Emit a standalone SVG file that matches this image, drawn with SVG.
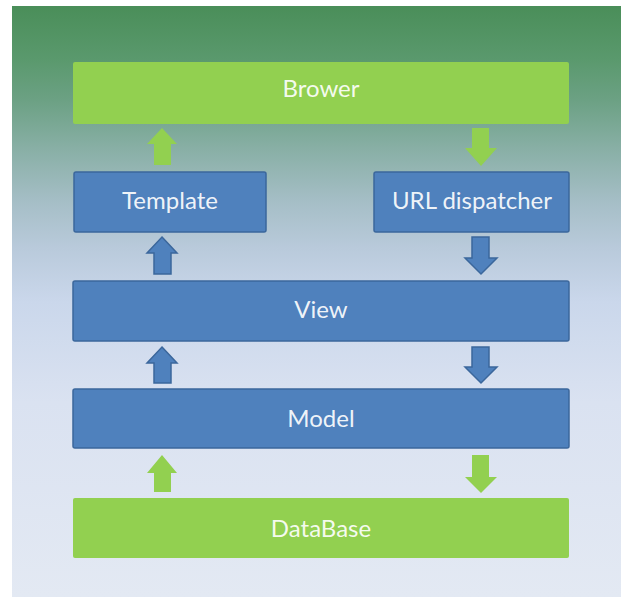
<svg xmlns="http://www.w3.org/2000/svg" width="621" height="597" viewBox="0 0 621 597">
  <defs>
    <linearGradient id="bg" gradientUnits="userSpaceOnUse" x1="0" y1="6" x2="0" y2="597">
      <stop offset="0" stop-color="#4A8E59"/>
      <stop offset="0.09" stop-color="#5A996D"/>
      <stop offset="0.16" stop-color="#6CA184"/>
      <stop offset="0.24" stop-color="#88AFA5"/>
      <stop offset="0.33" stop-color="#A5BEC6"/>
      <stop offset="0.41" stop-color="#B9CADB"/>
      <stop offset="0.50" stop-color="#CAD7EB"/>
      <stop offset="0.67" stop-color="#DAE2F1"/>
      <stop offset="1" stop-color="#E3E9F3"/>
    </linearGradient>
    <style>
      .green { fill: #92D050; }
      .blue { fill: #4F81BD; stroke: #3B679C; stroke-width: 1.5; }
      .label { font-family: Lato, "Liberation Sans", sans-serif; font-size: 24px; fill: #FFFFFF; fill-opacity: 0.92; text-anchor: middle; }
      .arrow-green { fill: #92D050; }
      .arrow-blue { fill: #4F81BD; stroke: #3B679C; stroke-width: 1.5; stroke-linejoin: miter; }
    </style>
  </defs>

  <rect x="0" y="0" width="621" height="597" fill="#FFFFFF"/>
  <rect x="12" y="6" width="609" height="591" fill="url(#bg)"/>

  <g id="browser">
    <rect class="green" x="73" y="62" width="496" height="62" rx="2"/>
    <text class="label" x="321" y="97">Brower</text>
  </g>

  <g id="template">
    <rect class="blue" x="74" y="172" width="192" height="60" rx="2"/>
    <text class="label" x="170" y="209">Template</text>
  </g>

  <g id="url-dispatcher">
    <rect class="blue" x="374" y="172" width="195" height="60" rx="2"/>
    <text class="label" x="472" y="209">URL dispatcher</text>
  </g>

  <g id="view">
    <rect class="blue" x="73" y="281" width="496" height="60" rx="2"/>
    <text class="label" x="321" y="318">View</text>
  </g>

  <g id="model">
    <rect class="blue" x="73" y="389" width="496" height="59" rx="2"/>
    <text class="label" x="321" y="427">Model</text>
  </g>

  <g id="database">
    <rect class="green" x="73" y="498" width="496" height="60" rx="2"/>
    <text class="label" x="321" y="537">DataBase</text>
  </g>

  <g id="connectors">
    <!-- upward flow on the left -->
    <polygon class="arrow-green" points="162,128 177,144 171,144 171,165 154,165 154,144 147,144"/>
    <polygon class="arrow-blue" points="162,237 177,253 171,253 171,274 154,274 154,253 147,253"/>
    <polygon class="arrow-blue" points="162,347 177,363 171,363 171,383 154,383 154,363 147,363"/>
    <polygon class="arrow-green" points="162,455 177,473 171,473 171,492 154,492 154,473 147,473"/>
    <!-- downward flow on the right -->
    <polygon class="arrow-green" points="472,128 489,128 489,148 497,148 481,166 465,148 472,148"/>
    <polygon class="arrow-blue" points="472,237 489,237 489,258 497,258 481,274 465,258 472,258"/>
    <polygon class="arrow-blue" points="472,347 489,347 489,367 497,367 481,383 465,367 472,367"/>
    <polygon class="arrow-green" points="472,455 489,455 489,477 497,477 481,493 465,477 472,477"/>
  </g>
</svg>
